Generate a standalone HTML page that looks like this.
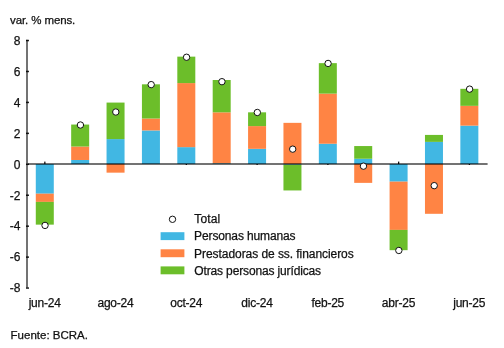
<!DOCTYPE html>
<html><head><meta charset="utf-8"><style>
html,body{margin:0;padding:0;background:#fff;width:504px;height:348px;overflow:hidden}
svg{display:block;will-change:transform;font-family:"Liberation Sans",sans-serif;font-size:12px}
text{fill:#111;stroke:#111;stroke-width:0.25px}
</style></head><body>
<svg width="504" height="348" viewBox="0 0 504 348">
<rect width="504" height="348" fill="#fff"/>
<text x="10.1" y="23.5" font-size="11.5" textLength="65.2" lengthAdjust="spacing">var. % mens.</text>
<text x="20.5" y="292.36" text-anchor="end">-8</text><text x="20.5" y="261.42" text-anchor="end">-6</text><text x="20.5" y="230.48" text-anchor="end">-4</text><text x="20.5" y="199.54" text-anchor="end">-2</text><text x="20.5" y="168.60" text-anchor="end">0</text><text x="20.5" y="137.66" text-anchor="end">2</text><text x="20.5" y="106.72" text-anchor="end">4</text><text x="20.5" y="75.78" text-anchor="end">6</text><text x="20.5" y="44.84" text-anchor="end">8</text>
<rect x="26" y="287.31" width="3" height="1.5" fill="#222"/><rect x="26" y="256.37" width="3" height="1.5" fill="#222"/><rect x="26" y="225.43" width="3" height="1.5" fill="#222"/><rect x="26" y="194.49" width="3" height="1.5" fill="#222"/><rect x="26" y="163.55" width="3" height="1.5" fill="#222"/><rect x="26" y="132.61" width="3" height="1.5" fill="#222"/><rect x="26" y="101.67" width="3" height="1.5" fill="#222"/><rect x="26" y="70.73" width="3" height="1.5" fill="#222"/><rect x="26" y="39.79" width="3" height="1.5" fill="#222"/><rect x="44.19" y="161.60" width="1.3" height="3.4" fill="#111"/><rect x="114.95" y="161.60" width="1.3" height="3.4" fill="#111"/><rect x="185.71" y="161.60" width="1.3" height="3.4" fill="#111"/><rect x="256.47" y="161.60" width="1.3" height="3.4" fill="#111"/><rect x="327.23" y="161.60" width="1.3" height="3.4" fill="#111"/><rect x="397.99" y="161.60" width="1.3" height="3.4" fill="#111"/><rect x="468.75" y="161.60" width="1.3" height="3.4" fill="#111"/>
<rect x="35.79" y="164.00" width="18.00" height="29.70" fill="#41B7E3"/><rect x="35.79" y="193.70" width="18.00" height="8.20" fill="#FF8444"/><rect x="35.79" y="201.90" width="18.00" height="22.74" fill="#6CBE2A"/><rect x="71.17" y="159.98" width="18.00" height="4.02" fill="#41B7E3"/><rect x="71.17" y="146.52" width="18.00" height="13.46" fill="#FF8444"/><rect x="71.17" y="124.55" width="18.00" height="21.97" fill="#6CBE2A"/><rect x="106.55" y="139.09" width="18.00" height="24.91" fill="#41B7E3"/><rect x="106.55" y="164.00" width="18.00" height="8.66" fill="#FF8444"/><rect x="106.55" y="102.58" width="18.00" height="36.51" fill="#6CBE2A"/><rect x="141.93" y="130.43" width="18.00" height="33.57" fill="#41B7E3"/><rect x="141.93" y="118.52" width="18.00" height="11.91" fill="#FF8444"/><rect x="141.93" y="84.33" width="18.00" height="34.19" fill="#6CBE2A"/><rect x="177.31" y="147.14" width="18.00" height="16.86" fill="#41B7E3"/><rect x="177.31" y="83.09" width="18.00" height="64.05" fill="#FF8444"/><rect x="177.31" y="56.64" width="18.00" height="26.45" fill="#6CBE2A"/><rect x="212.69" y="163.23" width="18.00" height="0.77" fill="#41B7E3"/><rect x="212.69" y="112.33" width="18.00" height="50.90" fill="#FF8444"/><rect x="212.69" y="80.00" width="18.00" height="32.33" fill="#6CBE2A"/><rect x="248.07" y="148.84" width="18.00" height="15.16" fill="#41B7E3"/><rect x="248.07" y="126.10" width="18.00" height="22.74" fill="#FF8444"/><rect x="248.07" y="112.33" width="18.00" height="13.77" fill="#6CBE2A"/><rect x="283.45" y="164.00" width="18.00" height="0.77" fill="#41B7E3"/><rect x="283.45" y="122.85" width="18.00" height="41.15" fill="#FF8444"/><rect x="283.45" y="164.77" width="18.00" height="25.68" fill="#6CBE2A"/><rect x="318.83" y="143.73" width="18.00" height="20.27" fill="#41B7E3"/><rect x="318.83" y="93.61" width="18.00" height="50.12" fill="#FF8444"/><rect x="318.83" y="63.14" width="18.00" height="30.48" fill="#6CBE2A"/><rect x="354.21" y="158.74" width="18.00" height="5.26" fill="#41B7E3"/><rect x="354.21" y="164.00" width="18.00" height="18.87" fill="#FF8444"/><rect x="354.21" y="146.05" width="18.00" height="12.69" fill="#6CBE2A"/><rect x="389.59" y="164.00" width="18.00" height="17.64" fill="#41B7E3"/><rect x="389.59" y="181.64" width="18.00" height="48.27" fill="#FF8444"/><rect x="389.59" y="229.90" width="18.00" height="20.27" fill="#6CBE2A"/><rect x="424.97" y="141.88" width="18.00" height="22.12" fill="#41B7E3"/><rect x="424.97" y="164.00" width="18.00" height="49.81" fill="#FF8444"/><rect x="424.97" y="134.92" width="18.00" height="6.96" fill="#6CBE2A"/><rect x="460.35" y="125.63" width="18.00" height="38.37" fill="#41B7E3"/><rect x="460.35" y="105.83" width="18.00" height="19.80" fill="#FF8444"/><rect x="460.35" y="88.82" width="18.00" height="17.02" fill="#6CBE2A"/>
<rect x="26" y="39.8" width="2" height="247.9" fill="rgba(0,0,0,0.55)"/>
<rect x="28" y="163" width="459.6" height="2" fill="rgba(0,0,0,0.55)"/>
<circle cx="45.04" cy="225.41" r="3.2" fill="#fff" stroke="#111" stroke-width="1.0"/><circle cx="80.42" cy="125.01" r="3.2" fill="#fff" stroke="#111" stroke-width="1.0"/><circle cx="115.80" cy="112.01" r="3.2" fill="#fff" stroke="#111" stroke-width="1.0"/><circle cx="151.18" cy="84.63" r="3.2" fill="#fff" stroke="#111" stroke-width="1.0"/><circle cx="186.56" cy="57.25" r="3.2" fill="#fff" stroke="#111" stroke-width="1.0"/><circle cx="221.94" cy="81.69" r="3.2" fill="#fff" stroke="#111" stroke-width="1.0"/><circle cx="257.32" cy="112.48" r="3.2" fill="#fff" stroke="#111" stroke-width="1.0"/><circle cx="292.70" cy="149.14" r="3.2" fill="#fff" stroke="#111" stroke-width="1.0"/><circle cx="328.08" cy="63.44" r="3.2" fill="#fff" stroke="#111" stroke-width="1.0"/><circle cx="363.46" cy="166.16" r="3.2" fill="#fff" stroke="#111" stroke-width="1.0"/><circle cx="398.84" cy="250.47" r="3.2" fill="#fff" stroke="#111" stroke-width="1.0"/><circle cx="434.22" cy="185.65" r="3.2" fill="#fff" stroke="#111" stroke-width="1.0"/><circle cx="469.60" cy="89.12" r="3.2" fill="#fff" stroke="#111" stroke-width="1.0"/>
<text x="44.79" y="306.7" text-anchor="middle" textLength="32.19" lengthAdjust="spacing">jun-24</text><text x="115.55" y="306.7" text-anchor="middle" textLength="36.07" lengthAdjust="spacing">ago-24</text><text x="186.31" y="306.7" text-anchor="middle" textLength="32.19" lengthAdjust="spacing">oct-24</text><text x="257.07" y="306.7" text-anchor="middle" textLength="31.55" lengthAdjust="spacing">dic-24</text><text x="327.83" y="306.7" text-anchor="middle" textLength="32.84" lengthAdjust="spacing">feb-25</text><text x="398.59" y="306.7" text-anchor="middle" textLength="33.48" lengthAdjust="spacing">abr-25</text><text x="469.35" y="306.7" text-anchor="middle" textLength="32.19" lengthAdjust="spacing">jun-25</text>
<circle cx="172.5" cy="219.3" r="3.2" fill="#fff" stroke="#111" stroke-width="1.0"/>
<rect x="160.6" y="232.2" width="23.8" height="7.9" fill="#41B7E3"/>
<rect x="160.6" y="249.3" width="23.8" height="7.9" fill="#FF8444"/>
<rect x="160.6" y="266.4" width="23.8" height="7.9" fill="#6CBE2A"/>
<text x="194.3" y="223.0" textLength="25.8" lengthAdjust="spacing">Total</text>
<text x="194.1" y="240.0" textLength="101.5" lengthAdjust="spacing">Personas humanas</text>
<text x="194.1" y="257.6" textLength="159.6" lengthAdjust="spacing">Prestadoras de ss. financieros</text>
<text x="194.3" y="274.6" textLength="126.8" lengthAdjust="spacing">Otras personas jurídicas</text>
<text x="10.6" y="338.8" font-size="11.5">Fuente: BCRA.</text>
</svg>
</body></html>
